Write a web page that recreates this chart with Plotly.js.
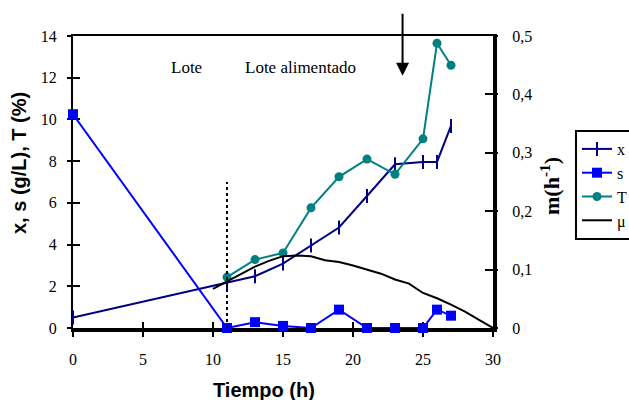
<!DOCTYPE html>
<html>
<head>
<meta charset="utf-8">
<script src="https://cdn.plot.ly/plotly-3.0.1.min.js"></script>
<style>html,body{margin:0;padding:0;background:#fff}#chart{width:629px;height:400px}</style>
</head>
<body>
<div id="chart"></div>
<script>
// ---- data ----
const timeX = [0, 11, 13, 15, 17, 19, 21, 23, 25, 26, 27];
const valX  = [0.5, 2.15, 2.48, 3.09, 3.95, 4.82, 6.33, 7.85, 7.96, 7.96, 9.69];

const timeS = [0, 11, 13, 15, 17, 19, 21, 23, 25, 26, 27];
const valS  = [10.25, 0, 0.28, 0.1, 0, 0.88, 0, 0, 0, 0.88, 0.59];

const timeT = [11, 13, 15, 17, 19, 21, 23, 25, 26, 27];
const valT  = [2.44, 3.28, 3.6, 5.76, 7.25, 8.1, 7.37, 9.07, 13.65, 12.6];

const timeMu = [10, 11, 12, 13, 14, 15, 16, 17, 18, 19, 20, 21, 22, 23, 24, 25, 26, 27, 28, 29, 30];
const valMu  = [0.067, 0.080, 0.093, 0.105, 0.115, 0.123, 0.124, 0.123, 0.116, 0.113, 0.107, 0.100, 0.093, 0.083, 0.076, 0.060, 0.051, 0.040, 0.028, 0.014, 0.0];

const seriesNames = ['x', 's', 'T', 'μ'];
const xTitle = 'Tiempo (h)';
const yTitle = 'x, s (g/L), T (%)';
const y2Title = 'm(h<sup>-1</sup>)';
const phaseLabels = ['Lote', 'Lote alimentado'];

const serif = "'Liberation Serif', 'Times New Roman', Times, serif";
const sans = "'Liberation Sans', Arial, sans-serif";

const traces = [
  {x: timeX, y: valX, name: seriesNames[0], type: 'scatter', mode: 'lines+markers', cliponaxis: false,
   line: {color: '#000080', width: 2},
   marker: {symbol: 'line-ns-open', size: 10, color: '#000080', line: {color: '#000080', width: 2}}},
  {x: timeS, y: valS, name: seriesNames[1], type: 'scatter', mode: 'lines+markers', cliponaxis: false,
   line: {color: '#0000FF', width: 2},
   marker: {symbol: 'square', size: 10, color: '#0000FF'}},
  {x: timeT, y: valT, name: seriesNames[2], type: 'scatter', mode: 'lines+markers', cliponaxis: false,
   line: {color: '#008080', width: 2},
   marker: {symbol: 'circle', size: 9, color: '#008080'}},
  {x: timeMu, y: valMu, name: seriesNames[3], type: 'scatter', mode: 'lines', yaxis: 'y2', cliponaxis: false,
   line: {color: '#000000', width: 2}},
  // empty helper traces so that the overlay tick axes get drawn
  {x: [], y: [], xaxis: 'x3', yaxis: 'y3', type: 'scatter', mode: 'lines', showlegend: false, hoverinfo: 'skip'},
  {x: [], y: [], xaxis: 'x4', yaxis: 'y4', type: 'scatter', mode: 'lines', showlegend: false, hoverinfo: 'skip'}
];

const layout = {
  width: 629, height: 400,
  margin: {l: 73, r: 136, t: 36, b: 72, autoexpand: false},
  paper_bgcolor: '#fff', plot_bgcolor: '#fff',
  separators: ',.',
  showlegend: true,
  legend: {xref: 'container', yref: 'container', x: 575 / 629, xanchor: 'left', y: (400 - 130) / 400, yanchor: 'top',
    bgcolor: '#fff', bordercolor: '#000', borderwidth: 2,
    font: {family: serif, size: 16, color: '#000'}, tracegroupgap: 0},
  xaxis: {range: [0, 30], dtick: 5, tick0: 0, showgrid: false, zeroline: false,
    showline: true, linewidth: 4, linecolor: '#000', layer: 'below traces',
    ticks: 'outside', ticklen: 5, tickwidth: 2, tickcolor: '#000',
    tickfont: {family: serif, size: 16, color: '#000'}, ticklabelstandoff: 9},
  xaxis3: {overlaying: 'x', anchor: 'y', range: [0, 30], dtick: 5, tick0: 0, showgrid: false, zeroline: false,
    showline: false, ticks: 'inside', ticklen: 6, tickwidth: 2, tickcolor: '#000', showticklabels: false, layer: 'below traces'},
  xaxis4: {overlaying: 'x', anchor: 'y', side: 'top', range: [0, 30], showgrid: false, zeroline: false,
    showline: true, linewidth: 2, linecolor: '#000', ticks: '', showticklabels: false, layer: 'below traces'},
  yaxis: {range: [0, 14], dtick: 2, tick0: 0, showgrid: false, zeroline: false,
    showline: true, linewidth: 2, linecolor: '#000', layer: 'below traces',
    ticks: 'outside', ticklen: 4, tickwidth: 2, tickcolor: '#000',
    tickfont: {family: serif, size: 16, color: '#000'}, ticklabelstandoff: 7},
  yaxis3: {overlaying: 'y', anchor: 'x', range: [0, 14], dtick: 2, tick0: 0, showgrid: false, zeroline: false,
    showline: false, ticks: 'inside', ticklen: 7, tickwidth: 2, tickcolor: '#000', showticklabels: false, layer: 'below traces'},
  yaxis2: {overlaying: 'y', side: 'right', anchor: 'x', range: [0, 0.5], dtick: 0.1, tick0: 0,
    showgrid: false, zeroline: false, showline: true, linewidth: 4, linecolor: '#000', layer: 'below traces',
    ticks: 'inside', ticklen: 8, tickwidth: 2, tickcolor: '#000',
    tickfont: {family: serif, size: 16, color: '#000'}, ticklabelstandoff: 12},
  yaxis4: {overlaying: 'y', side: 'right', anchor: 'x', range: [0, 0.5], dtick: 0.1, tick0: 0,
    showgrid: false, zeroline: false, showline: false, layer: 'below traces',
    ticks: 'outside', ticklen: 4, tickwidth: 2, tickcolor: '#000', showticklabels: false},
  shapes: [
    {type: 'line', xref: 'x', yref: 'y', x0: 11, x1: 11, y0: 0, y1: 7,
     line: {color: '#000', width: 2, dash: 'dot'}}
  ],
  annotations: [
    {xref: 'x', yref: 'y', x: 8.13, y: 12.48, text: phaseLabels[0], showarrow: false,
     font: {family: serif, size: 17, color: '#000'}},
    {xref: 'x', yref: 'y', x: 16.28, y: 12.48, text: phaseLabels[1], showarrow: false,
     font: {family: serif, size: 17, color: '#000'}},
    {xref: 'x', yref: 'y', x: 23.54, y: 12.1, text: ' ', showarrow: true,
     ax: 0, ay: -72, arrowhead: 2, arrowsize: 1.3, arrowwidth: 2, arrowcolor: '#000'},
    {xref: 'paper', yref: 'paper', x: (19 - 73) / 420, y: (328 - 163) / 292, text: '<b>' + yTitle + '</b>',
     textangle: -90, showarrow: false, xanchor: 'center', yanchor: 'middle',
     font: {family: sans, size: 20, color: '#000'}},
    {xref: 'paper', yref: 'paper', x: (264 - 73) / 420, y: (328 - 390) / 292, text: '<b>' + xTitle + '</b>',
     showarrow: false, xanchor: 'center', yanchor: 'middle',
     font: {family: sans, size: 20, color: '#000'}},
    {xref: 'paper', yref: 'paper', x: (550 - 73) / 420, y: (328 - 186) / 292, text: '<b>' + y2Title + '</b>',
     textangle: -90, showarrow: false, xanchor: 'center', yanchor: 'middle',
     font: {family: serif, size: 22, color: '#000'}}
  ]
};

Plotly.newPlot('chart', traces, layout, {staticPlot: true, displayModeBar: false});
</script>
</body>
</html>
